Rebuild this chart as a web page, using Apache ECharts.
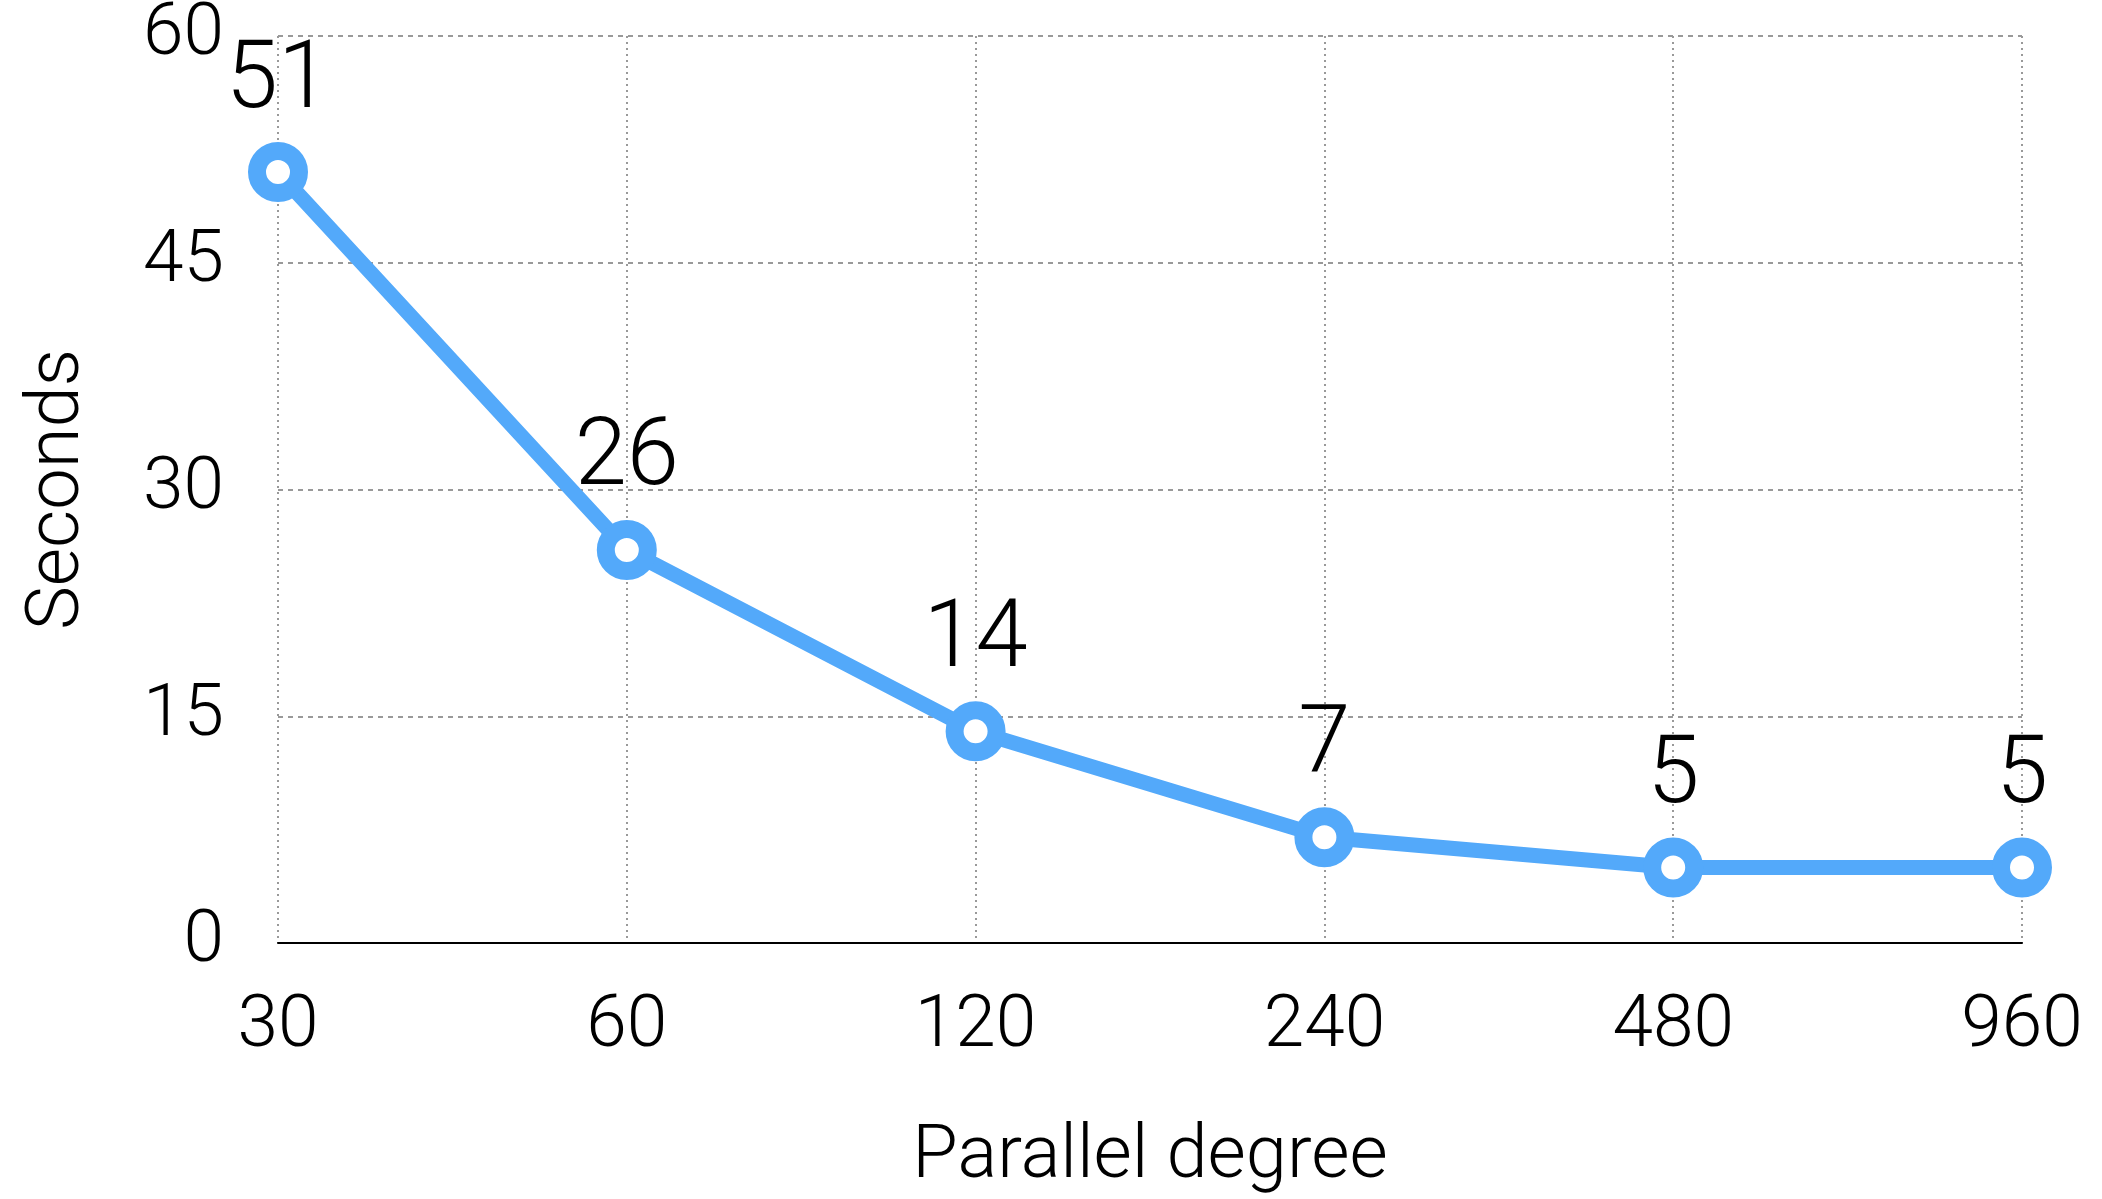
<!DOCTYPE html>
<html>
<head>
<meta charset="utf-8">
<script src="https://cdn.jsdelivr.net/npm/echarts@6/dist/echarts.min.js"></script>
<style>
html,body{margin:0;padding:0;background:#fff;}
#chart{width:2102px;height:1199px;}
</style>
</head>
<body>
<div id="chart"></div>
<script>
const categories = ['30', '60', '120', '240', '480', '960'];
const seconds = [51, 26, 14, 7, 5, 5];
const yTicks = [0, 15, 30, 45, 60];

const FONT = 'Roboto';
const BLUE = '#53A9FA';
const chart = echarts.init(document.getElementById('chart'));
chart.setOption({
  animation: false,
  backgroundColor: '#ffffff',
  grid: { left: 278, right: 80, top: 36, bottom: 256, containLabel: false, outerBoundsMode: 'none' },
  xAxis: {
    type: 'category',
    data: categories,
    boundaryGap: false,
    name: 'Parallel degree',
    nameLocation: 'middle',
    nameGap: 178,
    nameTextStyle: { fontFamily: FONT, fontWeight: 300, fontSize: 74, color: '#000' },
    axisLine: { show: true, lineStyle: { color: '#000', width: 2 } },
    axisTick: { show: false },
    axisLabel: { fontFamily: FONT, fontWeight: 300, fontSize: 73, color: '#000', margin: 48 },
    splitLine: { show: true, lineStyle: { color: '#999', width: 2, type: [2, 4] } }
  },
  yAxis: {
    type: 'value',
    min: yTicks[0],
    max: yTicks[yTicks.length - 1],
    interval: 15,
    name: 'Seconds',
    nameLocation: 'middle',
    nameGap: 182,
    nameRotate: 90,
    nameTextStyle: { fontFamily: FONT, fontWeight: 300, fontSize: 74, color: '#000' },
    axisLine: { show: false },
    axisTick: { show: false },
    axisLabel: { fontFamily: FONT, fontWeight: 300, fontSize: 73, color: '#000', margin: 54 },
    splitLine: { show: true, lineStyle: { color: '#999', width: 2, type: [5, 5] } }
  },
  series: [{
    type: 'line',
    data: seconds,
    symbol: 'circle',
    symbolSize: 42,
    showAllSymbol: true,
    lineStyle: { color: BLUE, width: 15 },
    itemStyle: { color: '#ffffff', borderColor: BLUE, borderWidth: 18 },
    label: {
      show: true,
      position: 'top',
      distance: 12,
      fontFamily: FONT,
      fontWeight: 300,
      fontSize: 94,
      color: '#000'
    },
    z: 5
  }]
});
</script>
</body>
</html>
